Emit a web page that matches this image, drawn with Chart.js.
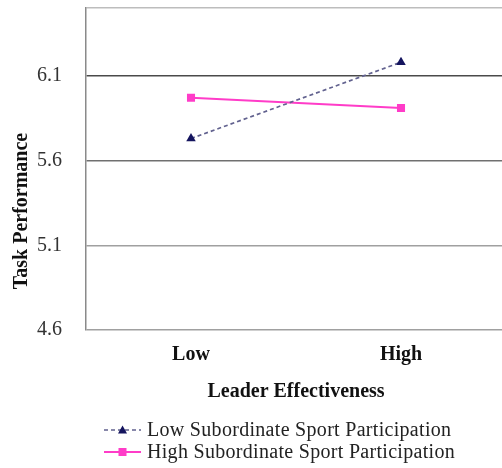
<!DOCTYPE html>
<html>
<head>
<meta charset="utf-8">
<script src="https://cdn.jsdelivr.net/npm/chart.js@4/dist/chart.umd.min.js"></script>
<style>
  html, body { margin: 0; padding: 0; background: #fff; overflow: hidden; }
  #wrap { width: 512px; height: 468px; }
</style>
</head>
<body>
<div id="wrap"><canvas id="lineChart" width="512" height="468"></canvas></div>
<script>
// values
const categories = ['Low', 'High'];
const lowSportValues = [5.73, 6.18];
const highSportValues = [5.97, 5.91];
const seriesNames = ['Low Subordinate Sport Participation', 'High Subordinate Sport Participation'];
const yTicks = [4.6, 5.1, 5.6, 6.1, 6.5];
const yTickLabels = ['4.6', '5.1', '5.6', '6.1', ''];

const serif = "'Liberation Serif', 'DejaVu Serif', serif";
const navy = '#14145e';
const dashColor = '#62628f';
const pink = '#ff3cc8';

// y title + x title + legend, drawn on the canvas
const extras = {
  id: 'extras',
  afterDraw(chart) {
    const ctx = chart.ctx;
    const area = chart.chartArea;
    ctx.save();
    ctx.fillStyle = '#111';
    ctx.font = 'bold 20px ' + serif;
    ctx.textAlign = 'center';
    ctx.textBaseline = 'middle';
    ctx.translate(22, 211);
    ctx.rotate(-Math.PI / 2);
    ctx.fillText('Task Performance', 0, 0);
    ctx.restore();

    ctx.save();
    ctx.fillStyle = '#111';
    ctx.font = 'bold 20px ' + serif;
    ctx.textAlign = 'center';
    ctx.textBaseline = 'middle';
    ctx.fillText('Leader Effectiveness', (area.left + area.right) / 2, 392);
    ctx.restore();

    const rows = [430, 452];
    chart.data.datasets.forEach((ds, i) => {
      const y = rows[i];
      ctx.save();
      ctx.strokeStyle = ds.borderColor;
      ctx.lineWidth = ds.borderWidth;
      ctx.setLineDash(ds.borderDash || []);
      ctx.beginPath();
      ctx.moveTo(104, y);
      ctx.lineTo(141, y);
      ctx.stroke();
      ctx.setLineDash([]);
      ctx.fillStyle = ds.pointBackgroundColor;
      if (ds.pointStyle === 'triangle') {
        ctx.beginPath();
        ctx.moveTo(122.5, y - 4.5);
        ctx.lineTo(127, y + 3.5);
        ctx.lineTo(118, y + 3.5);
        ctx.closePath();
        ctx.fill();
      } else {
        ctx.fillRect(118.5, y - 4, 8, 8);
      }
      ctx.fillStyle = '#222';
      ctx.font = '20px ' + serif;
      ctx.letterSpacing = '0.3px';
      ctx.textAlign = 'left';
      ctx.textBaseline = 'middle';
      ctx.fillText(ds.label, 147, y + 1);
      ctx.restore();
    });
  }
};

new Chart(document.getElementById('lineChart'), {
  type: 'line',
  data: {
    labels: categories,
    datasets: [{
      label: seriesNames[0],
      data: lowSportValues,
      borderColor: dashColor,
      borderWidth: 1.7,
      borderDash: [4, 3],
      pointStyle: 'triangle',
      pointRadius: 5.5,
      pointBackgroundColor: navy,
      pointBorderColor: navy,
      pointBorderWidth: 0
    }, {
      label: seriesNames[1],
      data: highSportValues,
      borderColor: pink,
      borderWidth: 2,
      pointStyle: 'rect',
      pointRadius: 5.7,
      pointBackgroundColor: pink,
      pointBorderColor: pink,
      pointBorderWidth: 0
    }]
  },
  options: {
    responsive: false,
    animation: false,
    layout: { autoPadding: false, padding: { left: 0, top: 8, right: 6, bottom: 0 } },
    plugins: { legend: { display: false }, tooltip: { enabled: false } },
    scales: {
      x: {
        offset: true,
        grid: { display: false, drawTicks: false },
        border: { display: false },
        ticks: {
          padding: 13,
          color: '#111',
          font: { family: serif, size: 20, weight: 'bold' }
        },
        afterFit(scale) { scale.height = 138; }
      },
      y: {
        min: 4.6,
        max: 6.5,
        afterBuildTicks(scale) { scale.ticks = yTicks.map(v => ({ value: v })); },
        grid: {
          drawTicks: false,
          lineWidth: 1.5,
          color: ctx => {
            const v = ctx.tick && ctx.tick.value;
            if (v === 6.1) return '#4a4a4a';
            if (v === 5.6) return '#707070';
            if (v === 6.5) return '#bdbdbd';
            return '#a0a0a0';
          }
        },
        border: { color: '#8a8a8a', width: 1.5 },
        ticks: {
          padding: 24,
          color: '#333',
          font: { family: serif, size: 20 },
          callback: (v, i) => yTickLabels[i]
        },
        afterFit(scale) {
          scale.width = 86;
          scale.paddingTop = 0;
          scale.paddingBottom = 0;
        }
      }
    }
  },
  plugins: [extras]
});
</script>
</body>
</html>
